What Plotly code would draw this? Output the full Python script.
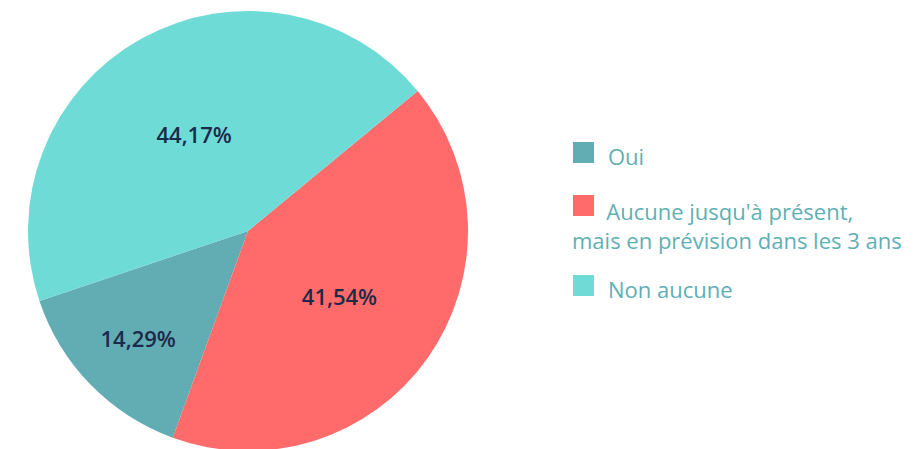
import plotly.graph_objects as go

# Data
labels = ["Oui", "Aucune jusqu'à présent, mais en prévision dans les 3 ans", "Non aucune"]
legend_lines = [["Oui"], ["Aucune jusqu'à présent,", "mais en prévision dans les 3 ans"], ["Non aucune"]]
values = [14.29, 41.54, 44.17]
colors = ["#62ADB3", "#FF6B6B", "#6FDBD6"]

W, H = 919, 449

def px_x(x):
    return x / W

def px_y(y):
    return 1 - y / H

fig = go.Figure()
fig.add_trace(go.Pie(
    labels=labels,
    values=values,
    sort=False,
    direction="counterclockwise",
    rotation=-160,
    marker=dict(colors=colors, line=dict(width=0)),
    texttemplate="%{percent:.2%}",
    textposition="inside",
    insidetextorientation="horizontal",
    textfont=dict(family="Open Sans, Noto Sans, sans-serif", size=22, color="#1B2A4A", weight=600),
    domain=dict(x=[px_x(20), px_x(460)], y=[px_y(443), px_y(3)]),
    showlegend=False,
    hoverinfo="label+percent",
))

# Custom legend (square swatches + text)
legend_font = dict(family="Open Sans, Noto Sans, sans-serif", size=22, color="#5FAFB5", weight=500)
sq_tops = [134, 187, 267]
sq = 21
indent = "\u00a0" * 6
shapes = []
annotations = []
for i, (lines, col) in enumerate(zip(legend_lines, colors)):
    top = sq_tops[i]
    shapes.append(dict(type="rect", xref="paper", yref="paper",
                       x0=px_x(565), x1=px_x(565 + sq), y0=px_y(top + sq), y1=px_y(top),
                       fillcolor=col, line=dict(width=0)))
    if len(lines) == 1:
        annotations.append(dict(x=px_x(598), y=px_y(top + 14), xref="paper", yref="paper",
                                text=lines[0], showarrow=False, xanchor="left", yanchor="middle",
                                font=legend_font))
    else:
        annotations.append(dict(x=px_x(562), y=px_y(top - 1), xref="paper", yref="paper",
                                text=indent + lines[0] + "<br>" + "<br>".join(lines[1:]),
                                showarrow=False, xanchor="left", yanchor="top", align="left",
                                font=legend_font))

fig.update_layout(
    width=W, height=H,
    margin=dict(l=0, r=0, t=0, b=0),
    paper_bgcolor="white",
    plot_bgcolor="white",
    separators=", ",
    shapes=shapes,
    annotations=annotations,
)

fig.write_html("out.html")
